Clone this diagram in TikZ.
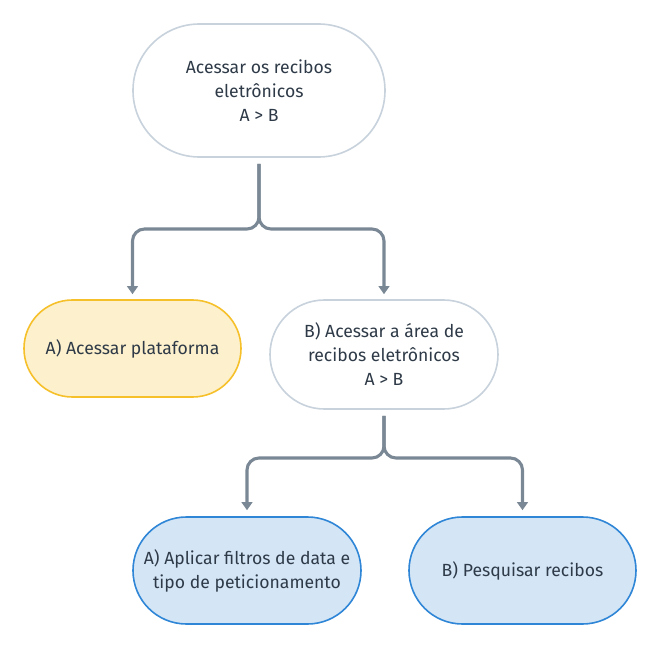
\documentclass[tikz,border=0pt]{standalone}
\usepackage{fontspec}
\setmainfont{Fira Sans}
\usetikzlibrary{arrows.meta}
\definecolor{txt}{HTML}{2E3A47}
\definecolor{greyb}{HTML}{C8D2DC}
\definecolor{yelf}{HTML}{FDF0CC}
\definecolor{yelb}{HTML}{F5C02A}
\definecolor{bluef}{HTML}{D4E5F6}
\definecolor{blueb}{HTML}{2F86D6}
\definecolor{conn}{HTML}{7A8794}
\tikzset{
  pill/.style={draw, line width=1.2pt, align=center, inner sep=0pt, text=txt,
    font=\fontsize{13.2}{18}\selectfont},
  whitepill/.style={pill, draw=greyb, fill=white},
  yellowpill/.style={pill, draw=yelb, fill=yelf},
  bluepill/.style={pill, draw=blueb, fill=bluef},
  connector/.style={draw=conn, line width=2.3pt, rounded corners=9pt,
    -{Triangle[length=6pt,width=8pt]}},
}
\begin{document}
\begin{tikzpicture}[x=0.75pt,y=-0.75pt]
\useasboundingbox (0,0) rectangle (662,650);
\node[whitepill, minimum width=189pt, minimum height=99.75pt, rounded corners=49.8pt] (top) at (259,90.5)
  {Acessar os recibos\\eletrônicos\\A > B};
\node[yellowpill, minimum width=162.75pt, minimum height=72.75pt, rounded corners=36.3pt] (a1) at (132.5,348.5)
  {A) Acessar plataforma};
\node[whitepill, minimum width=171pt, minimum height=81.75pt, rounded corners=40.8pt] (b1) at (384,354.5)
  {B) Acessar a área de\\recibos eletrônicos\\A > B};
\node[bluepill, minimum width=171pt, minimum height=80.25pt, rounded corners=40.1pt] (a2) at (247,570.5)
  {A) Aplicar filtros de data e\\tipo de peticionamento};
\node[bluepill, minimum width=170.25pt, minimum height=80.25pt, rounded corners=40.1pt] (b2) at (522.5,570.5)
  {B) Pesquisar recibos};
\coordinate (j1) at (259,229);
\coordinate (j2) at (384,458);
\draw[connector] ([yshift=-4.5pt]top.south) -- (j1) -- (j1 -| a1.north) -- ([yshift=3.75pt]a1.north);
\draw[connector] ([yshift=-4.5pt]top.south) -- (j1) -- (j1 -| b1.north) -- ([yshift=3.75pt]b1.north);
\draw[connector] ([yshift=-4.5pt]b1.south) -- (j2) -- (j2 -| a2.north) -- ([yshift=4.5pt]a2.north);
\draw[connector] ([yshift=-4.5pt]b1.south) -- (j2) -- (j2 -| b2.north) -- ([yshift=4.5pt]b2.north);
\end{tikzpicture}
\end{document}
